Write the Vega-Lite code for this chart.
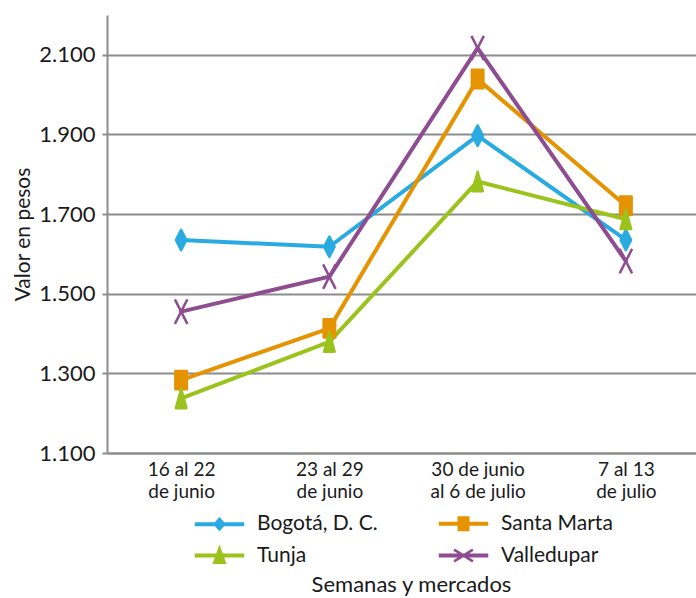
{
  "$schema": "https://vega.github.io/schema/vega-lite/v6.json",
  "width": 593,
  "height": 438,
  "autosize": {"type": "none"},
  "padding": {"left": 107, "top": 15, "right": 0, "bottom": 145},
  "background": "white",
  "config": {
    "font": "Lato",
    "view": {"stroke": null},
    "axis": {"labelColor": "#1a1a1a", "titleColor": "#1a1a1a", "domainColor": "#8c8c8c", "domainWidth": 2, "gridColor": "#8c8c8c", "gridWidth": 2, "tickColor": "#8c8c8c", "tickWidth": 2},
    "legend": {"orient": "none", "direction": "horizontal", "legendX": 101, "legendY": 497, "columns": 2, "title": null, "symbolSize": 400, "symbolOpacity": 1, "symbolStrokeWidth": 2.5, "labelFontSize": 21, "labelColor": "#1a1a1a", "labelOffset": 26, "columnPadding": 57, "rowPadding": 8}
  },
  "title": {"text": "Semanas y mercados", "orient": "bottom", "fontSize": 22, "fontWeight": "normal", "color": "#1a1a1a", "font": "Lato", "offset": 7, "dx": 8},
  "data": {
    "values": [
      {"semana": "16 al 22 de junio", "mercado": "Bogotá, D. C.", "valor": 1635},
      {"semana": "23 al 29 de junio", "mercado": "Bogotá, D. C.", "valor": 1618},
      {"semana": "30 de junio al 6 de julio", "mercado": "Bogotá, D. C.", "valor": 1897},
      {"semana": "7 al 13 de julio", "mercado": "Bogotá, D. C.", "valor": 1635},
      {"semana": "16 al 22 de junio", "mercado": "Santa Marta", "valor": 1283},
      {"semana": "23 al 29 de junio", "mercado": "Santa Marta", "valor": 1413},
      {"semana": "30 de junio al 6 de julio", "mercado": "Santa Marta", "valor": 2039},
      {"semana": "7 al 13 de julio", "mercado": "Santa Marta", "valor": 1721},
      {"semana": "16 al 22 de junio", "mercado": "Tunja", "valor": 1237},
      {"semana": "23 al 29 de junio", "mercado": "Tunja", "valor": 1379},
      {"semana": "30 de junio al 6 de julio", "mercado": "Tunja", "valor": 1782},
      {"semana": "7 al 13 de julio", "mercado": "Tunja", "valor": 1687},
      {"semana": "16 al 22 de junio", "mercado": "Valledupar", "valor": 1455},
      {"semana": "23 al 29 de junio", "mercado": "Valledupar", "valor": 1543},
      {"semana": "30 de junio al 6 de julio", "mercado": "Valledupar", "valor": 2117},
      {"semana": "7 al 13 de julio", "mercado": "Valledupar", "valor": 1582}
    ]
  },
  "encoding": {
    "x": {
      "field": "semana", "type": "ordinal",
      "sort": ["16 al 22 de junio", "23 al 29 de junio", "30 de junio al 6 de julio", "7 al 13 de julio"],
      "scale": {"type": "point", "padding": 0.5},
      "axis": {
        "title": null, "ticks": false, "grid": false, "labelAngle": 0, "labelFontSize": 19, "labelPadding": 7, "labelLineHeight": 22, "labelBaseline": "top",
        "labelExpr": "datum.value == '16 al 22 de junio' ? ['16 al 22', 'de junio'] : datum.value == '23 al 29 de junio' ? ['23 al 29', 'de junio'] : datum.value == '30 de junio al 6 de julio' ? ['30 de junio', 'al 6 de julio'] : ['7 al 13', 'de julio']"
      }
    },
    "y": {
      "field": "valor", "type": "quantitative",
      "scale": {"domain": [1100, 2200], "nice": false, "zero": false},
      "axis": {
        "title": "Valor en pesos", "titleFontSize": 21, "titleFontWeight": "normal", "titlePadding": 5,
        "values": [1100, 1300, 1500, 1700, 1900, 2100], "labelFontSize": 22, "labelPadding": 7, "tickSize": 5,
        "labelExpr": "replace(format(datum.value, ',.0f'), ',', '.')"
      }
    },
    "color": {
      "field": "mercado", "type": "nominal",
      "scale": {"domain": ["Bogotá, D. C.", "Santa Marta", "Tunja", "Valledupar"], "range": ["#29abe2", "#e59300", "#9bc31c", "#8e4c91"]}
    }
  },
  "layer": [
    {"mark": {"type": "line", "strokeWidth": 4, "strokeJoin": "round", "strokeCap": "round"}},
    {
      "transform": [{"filter": "datum.mercado === 'Bogotá, D. C.'"}],
      "mark": {"type": "point", "filled": true, "opacity": 1, "size": 576, "strokeWidth": 2.5, "strokeJoin": "round", "stroke": "#29abe2", "shape": "M0,-0.85L0.44,0L0,0.85L-0.44,0Z"}
    },
    {
      "transform": [{"filter": "datum.mercado === 'Santa Marta'"}],
      "mark": {"type": "point", "filled": true, "opacity": 1, "size": 576, "strokeWidth": 2.5, "strokeJoin": "round", "stroke": "#e59300", "shape": "M-0.48,-0.77H0.48V0.77H-0.48Z"}
    },
    {
      "transform": [{"filter": "datum.mercado === 'Tunja'"}],
      "mark": {"type": "point", "filled": true, "opacity": 1, "size": 576, "strokeWidth": 2.5, "strokeJoin": "round", "stroke": "#9bc31c", "shape": "M0,-0.81L0.44,0.81H-0.44Z"}
    },
    {
      "transform": [{"filter": "datum.mercado === 'Valledupar'"}],
      "mark": {"type": "point", "filled": true, "opacity": 1, "size": 576, "strokeWidth": 2.5, "strokeJoin": "round", "stroke": "#8e4c91", "shape": "M-0.52,-1.02L0.52,1.02M0.52,-1.02L-0.52,1.02"}
    },
    {
      "mark": {"type": "point", "filled": true, "opacity": 0, "size": 400},
      "encoding": {
        "shape": {
          "field": "mercado", "type": "nominal",
          "scale": {"domain": ["Bogotá, D. C.", "Santa Marta", "Tunja", "Valledupar"], "range": [
            "M-2.35,-0.075H2.35V0.075H-2.35Z M0,-0.525L0.475,0L0,0.525L-0.475,0Z",
            "M-2.35,-0.075H2.35V0.075H-2.35Z M-0.475,-0.625H0.475V0.625H-0.475Z",
            "M-2.35,-0.075H2.35V0.075H-2.35Z M0,-0.725L0.525,0.725H-0.525Z",
            "M-2.35,-0.075H2.35V0.075H-2.35Z M-0.94,-0.59L0.94,0.59M0.94,-0.59L-0.94,0.59"
          ]}
        },
        "stroke": {
          "field": "mercado", "type": "nominal",
          "scale": {"domain": ["Bogotá, D. C.", "Santa Marta", "Tunja", "Valledupar"], "range": ["#29abe2", "#e59300", "#9bc31c", "#8e4c91"]}
        }
      }
    }
  ]
}
